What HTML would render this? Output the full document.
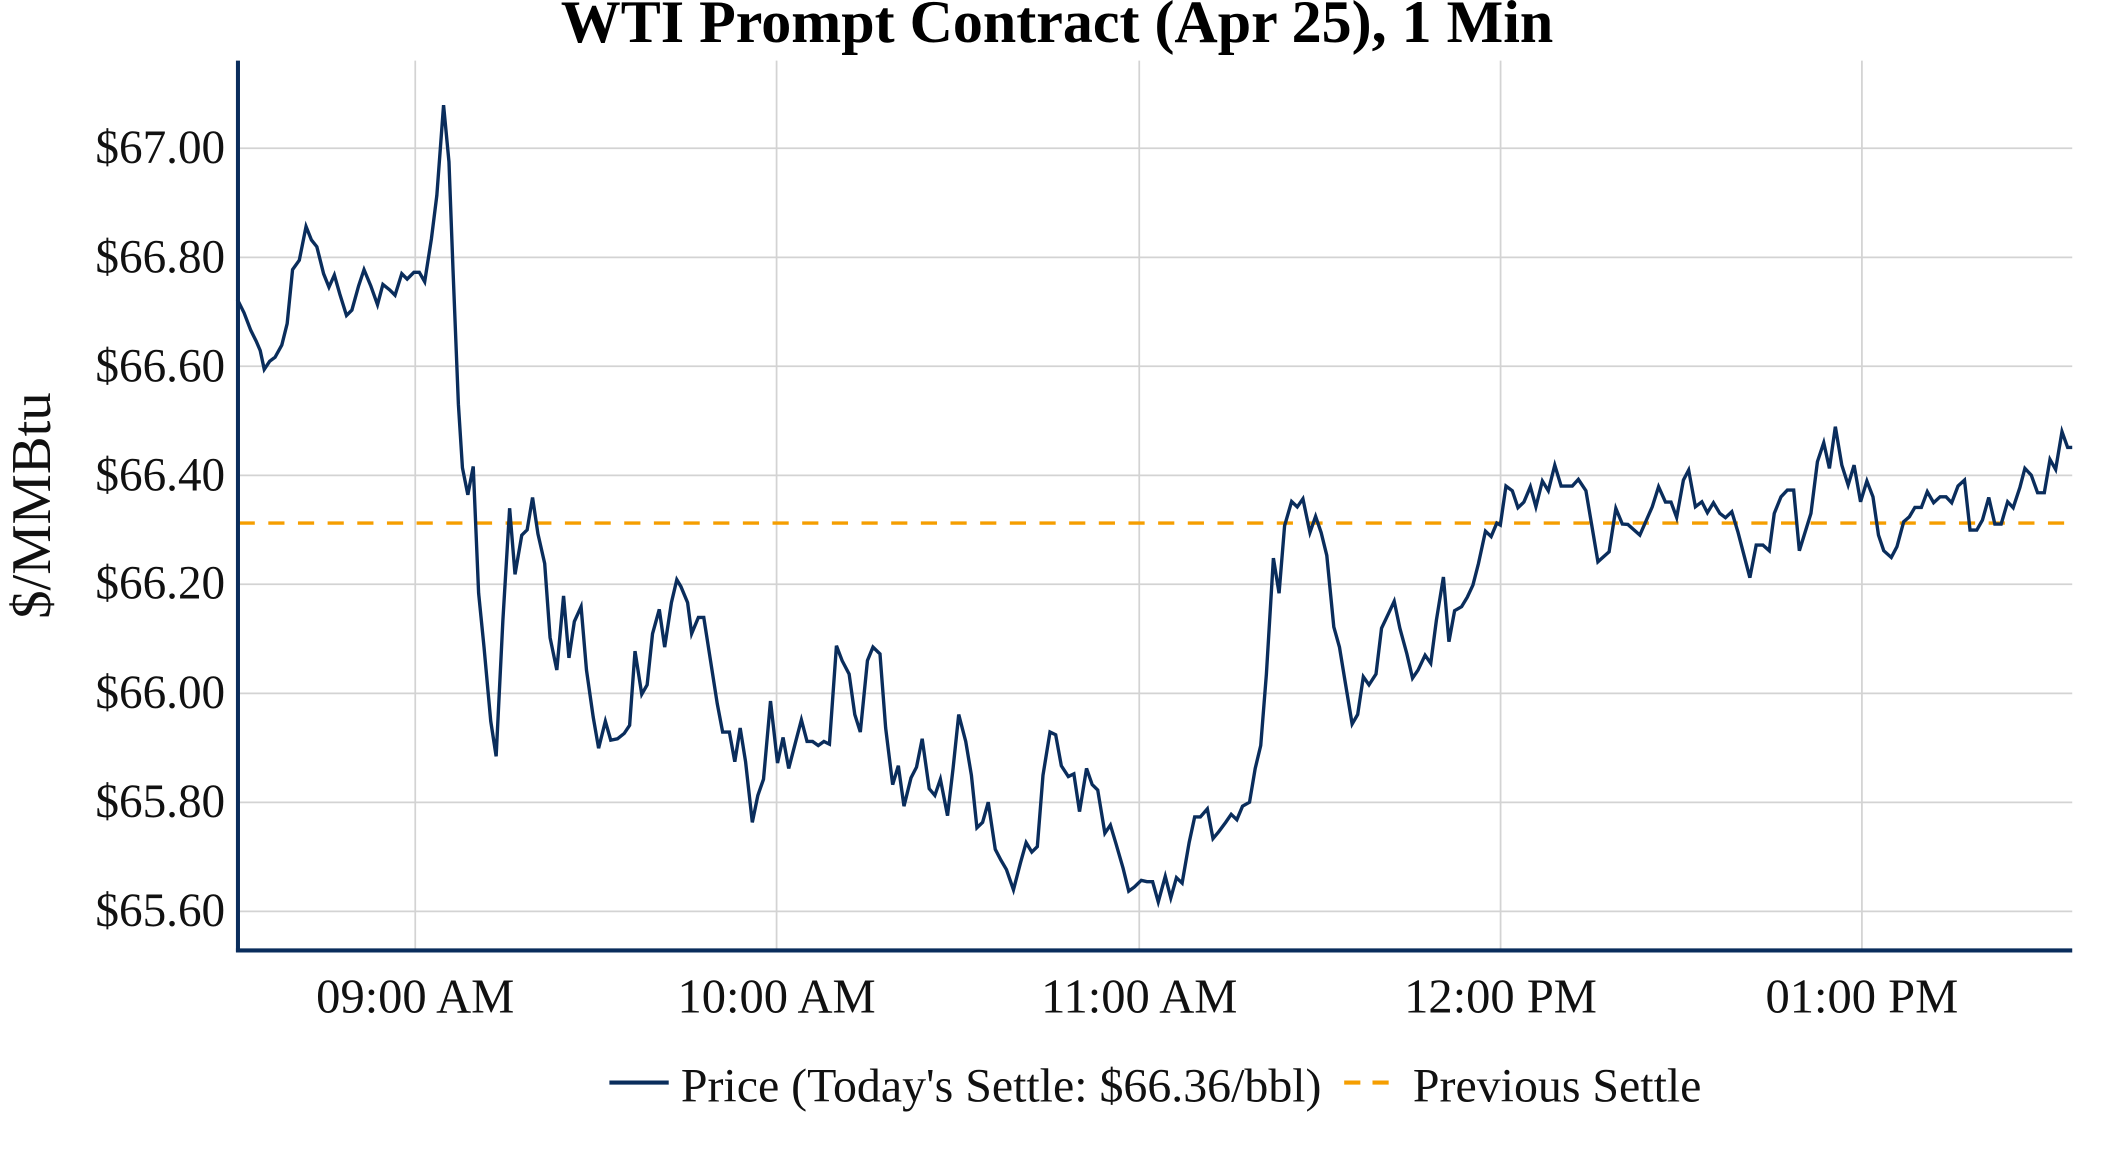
<!DOCTYPE html>
<html><head><meta charset="utf-8"><style>html,body{margin:0;padding:0;background:#fff;}svg{display:block;}</style></head>
<body>
<svg width="2112" height="1152" viewBox="0 0 1566.5 854.5" preserveAspectRatio="none" xmlns="http://www.w3.org/2000/svg" font-family="'Liberation Serif', serif">
<rect width="1566.5" height="854.5" fill="#fff"/>
<g stroke="#d3d3d3" stroke-width="1.3">
<line x1="176" x2="1537" y1="110" y2="110"/><line x1="176" x2="1537" y1="190.9" y2="190.9"/><line x1="176" x2="1537" y1="271.7" y2="271.7"/><line x1="176" x2="1537" y1="352.6" y2="352.6"/><line x1="176" x2="1537" y1="433.4" y2="433.4"/><line x1="176" x2="1537" y1="514.3" y2="514.3"/><line x1="176" x2="1537" y1="595.2" y2="595.2"/><line x1="176" x2="1537" y1="676" y2="676"/>
<line x1="308" x2="308" y1="45" y2="705"/><line x1="576" x2="576" y1="45" y2="705"/><line x1="845" x2="845" y1="45" y2="705"/><line x1="1113" x2="1113" y1="45" y2="705"/><line x1="1381" x2="1381" y1="45" y2="705"/>
</g>
<line x1="177" x2="1537" y1="388" y2="388" stroke="#f59e00" stroke-width="2.5" stroke-dasharray="12,10"/>
<polyline id="ln" fill="none" stroke="#0a2d5c" stroke-width="2.5" stroke-linejoin="miter" points=""/>
<g stroke="#0a2d5c" stroke-width="3" fill="none">
<line x1="176.5" x2="176.5" y1="45" y2="706"/><line x1="175" x2="1537" y1="705" y2="705"/>
</g>
<g font-size="35" fill="#111" text-anchor="end">
<text x="167" y="121">$67.00</text><text x="167" y="202">$66.80</text><text x="167" y="283">$66.60</text><text x="167" y="364">$66.40</text><text x="167" y="444">$66.20</text><text x="167" y="525">$66.00</text><text x="167" y="606">$65.80</text><text x="167" y="687">$65.60</text>
</g>
<g font-size="36" fill="#111" text-anchor="middle">
<text x="308" y="751">09:00 AM</text><text x="576" y="751">10:00 AM</text><text x="845" y="751">11:00 AM</text><text x="1113" y="751">12:00 PM</text><text x="1381" y="751">01:00 PM</text>
</g>
<text x="784" y="31" font-size="44.5" font-weight="bold" text-anchor="middle" fill="#000">WTI Prompt Contract (Apr 25), 1 Min</text>
<text transform="translate(37,375) rotate(-90)" font-size="42" text-anchor="middle" fill="#111">$/MMBtu</text>
<line x1="452" x2="496" y1="803" y2="803" stroke="#0a2d5c" stroke-width="3"/>
<text x="505" y="817" font-size="35.5" fill="#111">Price (Today's Settle: $66.36/bbl)</text>
<line x1="997" x2="1038" y1="803" y2="803" stroke="#f59e00" stroke-width="3" stroke-dasharray="12,9"/>
<text x="1048" y="817" font-size="35.5" fill="#111">Previous Settle</text>
</svg>
<script>
var a=[176,222,181,232,186,245,190,253,193,260,196,274,200,268,204,265,209,256,213,240,217,200,222,193,227,168,231,178,235,183,240,203,244,213,248,204,252,218,257,234,261,230,266,212,270,200,275,212,280,226,284,211,289,215,293,219,298,203,302,207,307,202,311,202,315,209,320,177,324,145,329,78,333,120,336,200,340,300,343,347,347,367,351,346,355,440,359,480,364,535,368,561,373,460,378,377,382,426,387,397,391,393,395,369,399,396,404,418,408,473,413,497,418,442,422,488,426,461,431,450,435,497,440,532,444,555,449,535,453,549,458,548,463,544,467,538,471,483,476,515,480,508,484,470,489,452,493,480,498,447,502,430,505,435,510,447,513,470,518,458,522,458,527,490,532,522,536,543,541,543,545,565,549,540,553,565,558,610,562,590,566,578,571,520,576,566,580,547,584,570,589,550,593,534,597,550,601,550,605,553,609,550,613,552,618,479,622,490,627,500,631,530,635,543,640,490,644,480,649,485,653,540,658,582,662,568,666,598,671,577,675,569,679,548,684,585,688,590,692,578,697,605,701,570,705,530,710,550,714,575,718,614,722,610,726,595,731,630,735,638,739,645,744,660,749,640,753,625,757,632,761,628,765,575,770,543,774,545,778,568,783,576,787,574,791,602,796,570,800,582,804,586,809,618,813,612,817,626,822,644,826,661,830,658,835,653,839,654,843,654,847,669,852,650,856,666,860,651,864,655,869,625,873,606,877,606,882,600,886,622,890,617,895,610,899,604,903,608,907,598,912,595,916,570,920,553,924,500,929,414,933,440,937,390,942,372,946,376,950,370,955,395,959,383,963,395,967,412,972,465,976,480,980,505,985,537,989,530,993,502,997,508,1002,500,1006,466,1011,455,1015,446,1019,466,1024,485,1028,503,1032,497,1037,486,1041,492,1045,460,1050,428,1054,476,1058,453,1063,450,1067,443,1071,434,1075,418,1080,394,1084,398,1088,388];
var b=[1112.8,389.5,1117,360.5,1121.7,364,1125.9,376.6,1130.3,372.4,1135.1,361,1139.2,375.9,1144,356.8,1148.4,364,1153.2,345,1157.9,360.5,1166.2,360.5,1170.7,355.6,1176.3,364,1185.2,416.7,1193.5,409.3,1198.5,377.1,1203.3,388.7,1207.4,389,1216.3,396.9,1225.5,375.9,1230.2,361,1235.3,372.4,1239.4,372.4,1243.6,383.8,1248.6,356.1,1252.5,348.7,1257.5,375.9,1262.3,372.2,1266.4,380.3,1270.9,372.9,1275.6,380.8,1279.8,384,1284.5,379.6,1289,394.4,1297.9,428.5,1302.6,404.3,1307.6,404.3,1312.3,408.5,1316,380.8,1321,368.5,1325.7,363.5,1330.4,363.5,1334.6,408.5,1343.2,380.8,1348,342.5,1352.7,328.4,1356.9,347.4,1361.3,316.5,1366.1,345,1370.8,359.8,1375.2,345,1380,372.2,1384.7,356.8,1389.2,368.5,1393.3,396.9,1397.2,408.5,1402.8,413.5,1407,405.5,1412,387,1416.2,383.3,1420.3,376.4,1425.1,376.4,1429.5,364.7,1434.2,372.9,1439,368.5,1443.4,368.5,1447.6,372.9,1452.3,360.5,1457.1,356.1,1461.2,393.2,1466.2,393.2,1470.4,385.8,1475.1,369,1479.6,388.7,1484.3,388.7,1489.1,372.2,1493.2,376.6,1498.2,361.5,1501.9,347.4,1506.6,352.4,1511.3,365.5,1516.3,365.5,1520.5,340.8,1524.7,348.2,1529.4,320.2,1533.6,331.9,1537,331.9];
var p=[];
for(var i=0;i<a.length;i+=2){var x=a[i];if(x>560)x=x+(x-560)*0.042;p.push(x.toFixed(1)+","+a[i+1]);}
for(var i=0;i<b.length;i+=2){p.push(b[i]+","+b[i+1]);}
document.getElementById("ln").setAttribute("points",p.join(" "));
</script>
</body></html>
